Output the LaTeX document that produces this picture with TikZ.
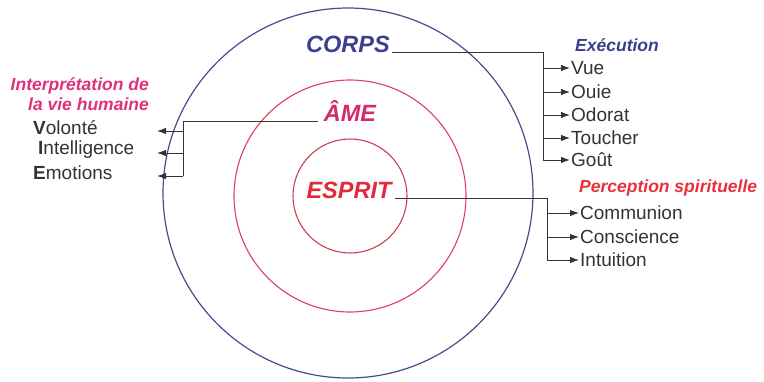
\documentclass[tikz,border=0pt]{standalone}
\usepackage{fontspec}
\setmainfont{Liberation Sans}
\usetikzlibrary{arrows.meta}
\definecolor{navy}{HTML}{3B3F8F}
\definecolor{outerc}{HTML}{4A4A8C}
\definecolor{midc}{HTML}{E0405C}
\definecolor{innc}{HTML}{C8404E}
\definecolor{amec}{HTML}{D42A6E}
\definecolor{espc}{HTML}{E02A3A}
\definecolor{pinkt}{HTML}{E0307A}
\definecolor{redt}{HTML}{E8303A}
\definecolor{txt}{HTML}{333333}
\definecolor{linec}{HTML}{333333}
\tikzset{
  big/.style={font=\fontsize{23.5}{23.5}\selectfont\bfseries\itshape, inner sep=0pt},
  ttl/.style={font=\fontsize{17.5}{20}\selectfont\bfseries\itshape, inner sep=0pt},
  item/.style={font=\fontsize{19}{19}\selectfont, text=txt, inner sep=0pt, anchor=west},
  conn/.style={draw=linec, line width=0.9pt},
  arr/.style={conn, -{Latex[length=9pt,width=6.5pt]}},
}
\begin{document}
\begin{tikzpicture}[x=1pt,y=-1pt]
\useasboundingbox (0,0) rectangle (764,381);
% circles
\draw[outerc, line width=1.2pt] (348,193) circle (185);
\draw[midc, line width=1.1pt] (350,196) circle (116);
\draw[innc, line width=1.1pt] (350,196) circle (57);
% main labels
\node[big, text=navy, anchor=base] (corps) at (348,52) {CORPS};
\node[big, text=amec, anchor=base] (ame) at (350,121) {ÂME};
\node[big, text=espc, anchor=base] (esprit) at (349,198) {ESPRIT};
% titles
\node[ttl, text=navy, anchor=west] (exec) at (575,45) {Exécution};
\node[ttl, text=redt, anchor=west] (perc) at (579,188) {Perception spirituelle};
\node[ttl, text=pinkt, anchor=east, align=right] (interp) at (149,94) {Interprétation de\\la vie humaine};
% right items CORPS
\node[item] (vue) at (571,68) {Vue};
\node[item] (ouie) at (571,92) {Ouie};
\node[item] (odorat) at (571,115) {Odorat};
\node[item] (toucher) at (571,138) {Toucher};
\node[item] (gout) at (571,160) {Goût};
% ESPRIT items
\node[item] (comm) at (580,213) {Communion};
\node[item] (consc) at (580,237) {Conscience};
\node[item] (intu) at (580,260) {Intuition};
% AME items
\node[item] (vol) at (33,128) {\textbf{V}olonté};
\node[item] (intel) at (38,150) {\textbf{I}ntelligence};
\node[item] (emo) at (33,173) {\textbf{E}motions};
% junction coordinates
\coordinate (jc) at (543,160);
\coordinate (je) at (547,260);
\coordinate (ja) at (183,176);
\coordinate (ea) at (157,131);
\coordinate (eb) at (157,153);
\coordinate (ec) at (157,176);
% CORPS connectors
\draw[conn] ([xshift=2pt]corps.base east) -| (jc);
\foreach \n in {vue,ouie,odorat,toucher,gout}
  \draw[arr] (jc |- \n.west) -- ([xshift=-1pt]\n.west);
% ESPRIT connectors
\draw[conn] ([xshift=3pt]esprit.base east) -| (je);
\foreach \n in {comm,consc,intu}
  \draw[arr] (je |- \n.west) -- ([xshift=-1pt]\n.west);
% AME connectors
\draw[conn] ([xshift=-6pt]ame.base west) -| (ja);
\draw[arr] (ja |- ea) -- (ea);
\draw[arr] (ja |- eb) -- (eb);
\draw[arr] (ja) -- (ec);
\end{tikzpicture}
\end{document}
